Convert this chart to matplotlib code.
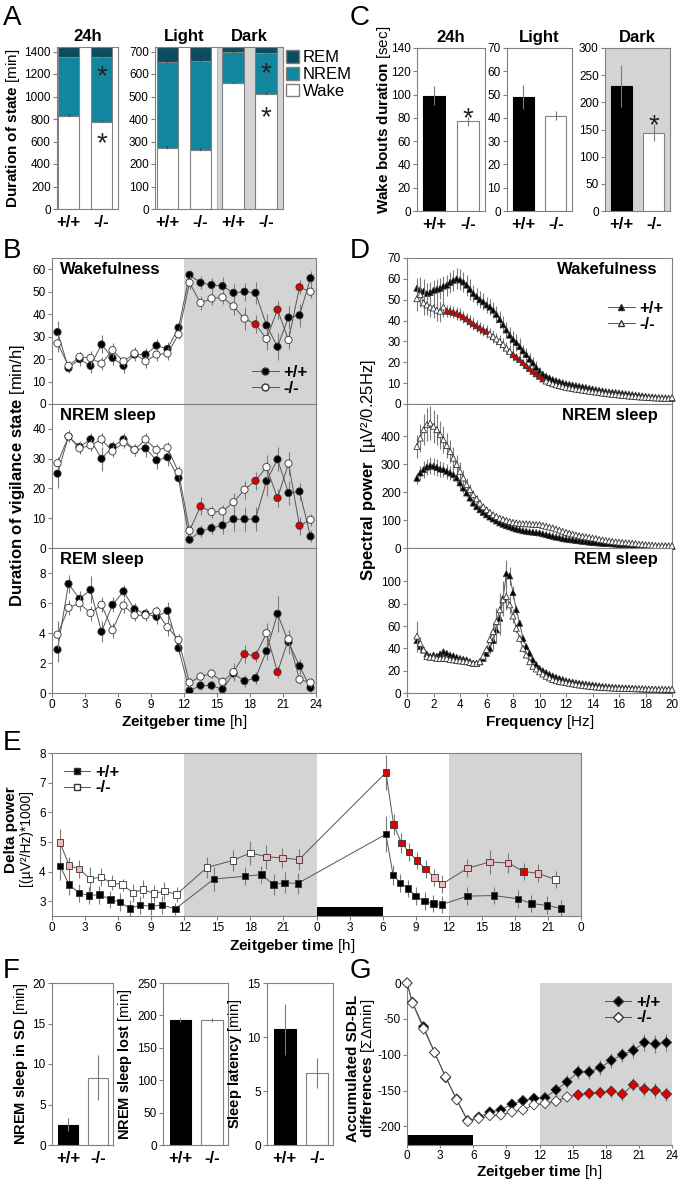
import numpy as np
import matplotlib
matplotlib.use("Agg")
import matplotlib.pyplot as plt
from matplotlib.lines import Line2D
from matplotlib.patches import Patch

plt.rcParams['font.family'] = ['Liberation Sans', 'DejaVu Sans']
plt.rcParams['mathtext.fontset'] = 'custom'
plt.rcParams['mathtext.rm'] = 'Liberation Sans'
plt.rcParams['mathtext.bf'] = 'Liberation Sans:bold'
plt.rcParams['mathtext.it'] = 'Liberation Sans:italic'
plt.rcParams['axes.unicode_minus'] = False

# ---------------- data ----------------
geno = ['+/+', '-/-']

# A: duration of state [min]
a24_wake = [830, 770]
a24_nrem = [525, 585]
a24_rem = [85, 85]
ld_groups = ['Light +/+', 'Light -/-', 'Dark +/+', 'Dark -/-']
ald_wake = [272, 262, 558, 510]
ald_nrem = [383, 398, 142, 183]
ald_rem = [65, 60, 20, 27]

# C: wake bout duration [sec]
c24 = [99, 77]
c24_sem = [8, 4]
clight = [49, 41]
clight_sem = [5, 2]
cdark = [230, 144]
cdark_sem = [38, 16]

# B: hourly time course [min/h]
zt = np.arange(0.5, 24, 1.0)
b_wake_wt = [32, 16, 20, 17, 26.5, 20.5, 17, 22, 22, 26, 24.5, 34,
             57.5, 54, 53, 52.5, 49.5, 50, 49.5, 35, 25.5, 38.5, 39.5, 56]
b_wake_ko = [27, 17, 21, 20.5, 18, 24, 19, 22.5, 19, 22, 22.5, 31,
             54, 45, 47, 47.5, 43.5, 38, 35.5, 29, 42, 28.5, 52, 50]
b_wake_wt_sem = [5, 2, 3, 3, 4, 3, 3, 3, 3, 3, 3, 3, 2, 3, 3, 4, 4, 4, 5, 5, 6, 5, 5, 3]
b_wake_ko_sem = [4, 2, 2, 3, 3, 3, 2, 3, 3, 3, 3, 2, 3, 3, 3, 3, 4, 5, 4, 5, 4, 4, 3, 3]
b_wake_sig = [18, 20, 22]

b_nrem_wt = [25, 37.5, 34, 36.5, 30, 34, 36.5, 33, 33.5, 29.5, 30.5, 23.5,
             2.8, 5.6, 6.7, 7.6, 9.7, 9.7, 9.7, 22.5, 29.8, 18.5, 19, 3.9]
b_nrem_ko = [28.5, 37.5, 33.5, 34.5, 36.5, 32.5, 35.5, 33, 36.5, 33, 33.7, 25.5,
             5.8, 14, 12.1, 12.3, 15.4, 19.6, 22.6, 27.2, 16.8, 28.4, 7.5, 9.5]
b_nrem_wt_sem = [5, 2, 2, 2, 4, 2, 2, 2, 3, 3, 3, 2, 1, 2, 2, 3, 4, 4, 4, 5, 4, 4, 3, 2]
b_nrem_ko_sem = [2, 2, 2, 2, 2, 2, 2, 2, 2, 2, 2, 2, 2, 3, 2, 2, 3, 3, 3, 4, 3, 4, 3, 2]
b_nrem_sig = [13, 18, 20, 22]

b_rem_wt = [2.9, 7.3, 6.3, 6.9, 4.1, 5.9, 6.8, 5.6, 5.3, 5.1, 5.5, 3.0,
            0.15, 0.5, 0.5, 0.25, 1.3, 0.8, 1.0, 2.8, 5.3, 3.4, 1.8, 0.35]
b_rem_ko = [3.9, 5.7, 6.0, 5.35, 5.9, 4.2, 5.85, 5.2, 5.2, 5.45, 4.4, 3.55,
            0.7, 1.1, 1.3, 0.75, 1.4, 2.6, 2.5, 4.0, 1.4, 3.6, 0.9, 0.7]
b_rem_wt_sem = [0.8, 0.6, 0.5, 0.9, 0.7, 0.5, 0.4, 0.4, 0.4, 0.5, 0.6, 0.4,
                0.2, 0.3, 0.3, 0.3, 0.4, 0.4, 0.4, 0.6, 1.2, 0.8, 0.5, 0.3]
b_rem_ko_sem = [0.9, 0.5, 0.5, 0.5, 0.5, 0.5, 0.5, 0.4, 0.4, 0.4, 0.6, 0.4,
                0.3, 0.3, 0.3, 0.3, 0.6, 0.6, 0.4, 0.7, 0.4, 0.6, 0.3, 0.3]
b_rem_sig = [17, 18, 20]

# D: EEG spectra, 0.25 Hz bins from 0.75 to 20 Hz
freq = np.arange(0.75, 20.001, 0.25)
d_wake_wt = [55.5,
             54.8, 54.0, 53.0, 53.5,
             54.5, 55.0, 55.5, 56.5,
             57.0, 58.3, 59.3, 60.0,
             59.5, 58.5, 57.0, 55.0,
             53.0, 51.5, 50.0, 49.0,
             47.5, 46.5, 45.0, 43.0,
             40.5, 38.0, 35.5, 33.0,
             31.0, 29.5, 27.5, 25.5,
             23.7, 21.5, 19.7, 17.5,
             15.7, 14.3, 13.3, 12.5,
             11.7, 11.2, 10.7, 10.2,
             9.7, 9.4, 9.1, 8.8,
             8.5, 8.2, 7.9, 7.5,
             7.2, 6.9, 6.6, 6.3,
             6.0, 5.8, 5.6, 5.5,
             5.3, 5.1, 4.9, 4.7,
             4.5, 4.3, 4.1, 3.9,
             3.7, 3.5, 3.4, 3.2,
             3.1, 3.0, 2.9, 2.8,
             2.7]
d_wake_ko = [50.5,
             52.5, 48.5, 47.5, 46.5,
             46.0, 45.0, 44.5, 46.5,
             44.5, 44.5, 44.0, 43.5,
             42.8, 41.8, 40.8, 39.6,
             38.5, 37.5, 36.5, 35.5,
             34.8, 33.5, 32.4, 31.2,
             30.0, 28.5, 26.8, 25.2,
             23.7, 22.5, 21.3, 19.8,
             18.4, 17.0, 15.7, 14.5,
             13.3, 12.0, 11.0, 10.3,
             9.7, 9.2, 8.8, 8.4,
             8.0, 7.7, 7.4, 7.1,
             6.9, 6.6, 6.4, 6.1,
             5.9, 5.7, 5.5, 5.2,
             5.0, 4.8, 4.6, 4.5,
             4.3, 4.1, 4.0, 3.8,
             3.7, 3.6, 3.4, 3.3,
             3.2, 3.1, 3.0, 2.9,
             2.8, 2.8, 2.7, 2.7,
             3.0]
d_wake_sig = [(3.0, 6.0), (8.0, 10.25)]
d_wake_wt_sem = [5,
                 6, 6, 5, 5,
                 5, 5, 5, 5,
                 5, 5, 5, 5,
                 5, 5, 5, 5,
                 4, 4, 4, 4,
                 4, 4, 4, 4,
                 4, 4, 4, 4,
                 4, 4, 4, 3,
                 3, 3, 3, 3,
                 2]
d_wake_ko_sem = [6,
                 6, 6, 5, 5,
                 5, 5, 5, 5,
                 3, 3, 3, 3,
                 3, 3, 3, 3,
                 3, 3, 3, 3,
                 3, 3, 3, 3,
                 3, 3, 3, 3,
                 3, 2, 2, 2,
                 2, 2, 2, 2,
                 2]

d_nrem_wt = [250,
             269, 281, 290, 295,
             293, 289, 283, 281,
             275, 269, 263, 251,
             233, 215, 197, 179,
             161, 148, 137, 128,
             119, 111, 104, 97,
             90, 85, 80, 76,
             72, 68, 65, 62,
             60, 58, 57, 55,
             54, 51, 48, 45,
             42, 39, 37, 34,
             32, 30, 29, 27,
             26, 24, 23, 21,
             20, 19, 18, 17,
             17, 16, 15, 14,
             13, 12, 12, 11,
             10, 9, 9, 8,
             7, 7, 7, 6,
             6, 6, 6, 5,
             5]
d_nrem_ko = [364,
             394, 424, 442, 448,
             436, 424, 406, 388,
             367, 346, 322, 299,
             275, 251, 227, 209,
             191, 176, 161, 148,
             137, 128, 119, 113,
             107, 103, 99, 95,
             92, 90, 88, 87,
             87, 86, 85, 84,
             84, 81, 78, 75,
             72, 68, 64, 60,
             56, 53, 50, 47,
             44, 42, 40, 38,
             36, 34, 31, 29,
             27, 25, 24, 22,
             21, 20, 19, 18,
             17, 16, 14, 13,
             12, 11, 10, 9,
             8, 8, 8, 8,
             8]
d_nrem_wt_sem = [20,
                 25, 30, 30, 30,
                 30, 30, 28, 28,
                 26, 25, 24, 22,
                 20, 18, 16, 14,
                 12, 10, 9, 8,
                 7, 6, 6]
d_nrem_ko_sem = [40,
                 50, 55, 60, 60,
                 60, 55, 50, 48,
                 45, 42, 40, 36,
                 32, 28, 24, 20,
                 16, 14, 12, 10,
                 9, 8, 7]

d_rem_wt = [47,
            41.6, 38.6, 35.0, 33.0,
            34.0, 33.0, 35.0, 37.0,
            35.6, 34.0, 33.3, 32.0,
            31.0, 30.3, 29.7, 28.2,
            26.7, 26.5, 28.0, 31.0,
            35.6, 40.0, 47.0, 56.6,
            67.0, 85.0, 107.0, 105.0,
            90.0, 74.6, 62.6, 49.0,
            41.6, 35.6, 29.7, 25.5,
            22.0, 20.0, 18.3, 16.7,
            15.3, 14.1, 13.0, 12.0,
            11.0, 10.4, 9.8, 9.2,
            8.7, 8.3, 7.9, 7.5,
            7.2, 6.8, 6.4, 6.0,
            5.7, 5.5, 5.2, 5.0,
            4.8, 4.6, 4.5, 4.3,
            4.2, 4.0, 3.9, 3.7,
            3.6, 3.4, 3.3, 3.1,
            3.0, 2.9, 2.8, 2.8,
            2.7]
d_rem_ko = [51,
            44.6, 38.6, 32.7, 32.0,
            32.0, 31.0, 31.0, 31.0,
            31.0, 30.0, 29.7, 29.0,
            28.8, 28.4, 28.0, 27.3,
            26.7, 26.7, 28.0, 33.0,
            39.0, 48.0, 55.0, 64.0,
            74.6, 83.6, 86.6, 79.0,
            69.0, 58.0, 49.0, 40.0,
            34.0, 28.0, 24.0, 21.5,
            19.0, 17.0, 15.0, 13.5,
            12.0, 11.0, 10.3, 9.8,
            9.3, 8.7, 8.2, 7.7,
            7.2, 6.8, 6.4, 6.0,
            5.7, 5.4, 5.1, 4.9,
            4.8, 4.6, 4.5, 4.3,
            4.2, 4.1, 4.0, 4.0,
            3.9, 3.8, 3.7, 3.7,
            3.6, 3.5, 3.4, 3.4,
            3.3, 3.3, 3.3, 3.3,
            3.3]
d_rem_wt_sem = [8,
                4, 3, 2, 2,
                2, 2, 2, 2,
                2, 2, 2, 2,
                2, 2, 2, 2,
                2, 2, 2, 2,
                3, 5, 8, 12,
                15, 15, 12, 8,
                6, 4, 3, 3,
                2, 2, 2, 2,
                2]
d_rem_ko_sem = [14,
                6, 3, 2, 2,
                2, 2, 2, 2,
                2, 2, 2, 2,
                2, 2, 2, 2,
                2, 2, 2, 2,
                3, 5, 8, 12,
                15, 15, 12, 8,
                6, 4, 3, 3,
                2, 2, 2, 2,
                2]

# E: delta power, baseline day (0-24) and recovery after SD (24-48)
e_wt_t = [0.75, 1.55, 2.45, 3.35, 4.3, 5.3, 6.15, 7.1, 8.0, 9.0, 10.0, 11.2,
          14.7, 17.5, 19.0, 20.1, 21.1, 22.3,
          30.3, 30.95, 31.6, 32.3, 33.0, 33.8, 34.6, 35.4,
          37.7, 40.1, 42.3, 43.5, 44.9, 46.2]
e_wt = [4.18, 3.56, 3.28, 3.19, 3.22, 3.06, 2.97, 2.75, 2.87, 2.83, 2.87, 2.74,
        3.75, 3.84, 3.9, 3.56, 3.62, 3.6,
        5.26, 3.88, 3.62, 3.43, 3.17, 3.0, 2.92, 2.89,
        3.17, 3.19, 3.08, 2.92, 2.86, 2.75]
e_wt_sem = [0.45, 0.35, 0.3, 0.3, 0.3, 0.3, 0.3, 0.3, 0.3, 0.3, 0.3, 0.2,
            0.4, 0.3, 0.3, 0.35, 0.35, 0.35,
            0.6, 0.35, 0.3, 0.3, 0.3, 0.3, 0.3, 0.3,
            0.3, 0.3, 0.3, 0.3, 0.3, 0.3]
e_ko_t = [0.72, 1.57, 2.47, 3.44, 4.44, 5.4, 6.4, 7.36, 8.27, 9.24, 10.2, 11.3,
          14.07, 16.4, 18.0, 19.45, 20.9, 22.4,
          30.3, 31.0, 31.7, 32.4, 33.1, 33.9, 34.7, 35.4,
          37.7, 39.7, 41.4, 42.8, 44.1, 45.7]
e_ko = [4.98, 4.2, 4.09, 3.75, 3.81, 3.62, 3.56, 3.28, 3.4, 3.26, 3.34, 3.23,
        4.14, 4.37, 4.63, 4.5, 4.46, 4.4,
        7.34, 5.59, 4.96, 4.66, 4.37, 4.09, 3.8, 3.58,
        4.11, 4.32, 4.29, 4.0, 3.94, 3.73]
e_ko_sem = [0.45, 0.3, 0.3, 0.4, 0.3, 0.25, 0.2, 0.3, 0.3, 0.3, 0.3, 0.25,
            0.35, 0.35, 0.4, 0.4, 0.35, 0.35,
            0.6, 0.35, 0.35, 0.3, 0.3, 0.3, 0.3, 0.3,
            0.3, 0.4, 0.35, 0.3, 0.3, 0.3]
# significance code per -/- point: r = p<0.05 vs +/+, p = trend, w = n.s.
e_ko_sig = ['p', 'p', 'p', 'w', 'w', 'w', 'w', 'w', 'w', 'w', 'w', 'w',
            'w', 'w', 'w', 'p', 'p', 'p',
            'r', 'r', 'r', 'r', 'r', 'r', 'p', 'p',
            'p', 'p', 'p', 'r', 'p', 'w']
sd_window = (24, 30)

# F
f_sd_nrem = [2.5, 8.3]
f_sd_nrem_sem = [0.8, 2.8]
f_lost = [193, 193]
f_lost_sem = [3, 3]
f_latency = [10.7, 6.7]
f_latency_sem = [2.4, 1.4]

# G: accumulated SD-BL differences
g_t = [0, 0.5, 1.5, 2.5, 3.5, 4.5, 5.5, 6.5, 7.5, 8.5, 9.5, 10.5, 11.5,
       12.5, 13.5, 14.5, 15.5, 16.5, 17.5, 18.5, 19.5, 20.5, 21.5, 22.5, 23.5]
g_wt = [0, -27, -61, -97, -132, -162, -192, -187, -180, -177, -169, -164, -161,
        -160, -149, -138, -124, -124, -118, -108, -100, -94, -83, -85, -83]
g_ko = [0, -28, -64, -97, -131, -163, -193, -189, -185, -184, -180, -177, -170,
        -168, -165, -159, -156, -154, -153, -151, -155, -142, -148, -150, -155]
g_wt_sem = [0, 3, 4, 4, 5, 6, 6, 5, 5, 5, 6, 6, 6, 6, 8, 9, 10, 10, 10, 10, 10, 10, 12, 12, 12]
g_ko_sem = [0, 3, 4, 4, 5, 6, 6, 5, 5, 5, 5, 5, 6, 6, 6, 6, 7, 8, 8, 8, 9, 9, 10, 10, 10]
g_sig = list(range(16, 25))

# ---------------- style ----------------
NREM_C = '#13869f'
REM_C = '#0c4c5e'
SHADE = '#d4d4d4'
EDGE = '#808080'
ERR = '#7a7a7a'
LINE = '#555555'
MEDGE = '#333333'
RED = '#e00000'
PINK = '#f5b7b7'

W, H = 680, 1181
fig = plt.figure(figsize=(W / 100, H / 100), dpi=100)


def px_axes(l, t, r, b):
    return fig.add_axes([l / W, 1 - b / H, (r - l) / W, (b - t) / H])


def ftext(x, y, s, **kw):
    fig.text(x / W, 1 - y / H, s, **kw)


def mixed(bold, regular):
    return r'$\mathbf{' + bold.replace(' ', r'\ ') + '}$ ' + regular


def style(ax):
    for s in ax.spines.values():
        s.set_color(EDGE)
        s.set_linewidth(0.8)
    ax.tick_params(direction='out', length=3, width=0.8, color=EDGE,
                   labelsize=8.5, pad=1.5)


def geno_ticks(ax, n=2):
    ax.set_xticks(range(n))
    ax.set_xticklabels(geno * (n // 2), fontsize=12, fontweight='bold')
    ax.tick_params(axis='x', length=0, pad=4)


def star(ax, x, y, size=20):
    ax.annotate('*', (x, y), xytext=(0, -0.58 * size), textcoords='offset points',
                ha='center', va='baseline', fontsize=size, color='#222222',
                annotation_clip=False)


def series(ax, x, y, sem, faces, marker, ms, z=3, clip=True):
    x = np.asarray(x, float)
    y = np.asarray(y, float)
    n = len(sem)
    ax.errorbar(x[:n], y[:n], yerr=sem, fmt='none', ecolor=ERR,
                elinewidth=0.8, capsize=0, zorder=z)
    ax.plot(x, y, color=LINE, lw=0.7, zorder=z + 0.1)
    ax.scatter(x, y, s=ms ** 2, c=faces, marker=marker, edgecolors=MEDGE,
               linewidths=0.6, zorder=z + 0.2, clip_on=clip)


def faces_from_idx(n, sig, base='white'):
    f = [base] * n
    for i in sig:
        f[i] = RED
    return f


# ---------------- A ----------------
axA = px_axes(57, 47, 118, 209)
xa = np.arange(2)
bot2 = np.add(a24_wake, a24_nrem)
axA.bar(xa, a24_wake, 0.64, color='white', edgecolor=EDGE, lw=0.8)
axA.bar(xa, a24_nrem, 0.64, bottom=a24_wake, color=NREM_C, edgecolor=EDGE, lw=0.8)
axA.bar(xa, a24_rem, 0.64, bottom=bot2, color=REM_C, edgecolor=EDGE, lw=0.8)
axA.errorbar(xa, a24_wake, yerr=[[0, 0], [12, 12]], fmt='none', ecolor='#333', elinewidth=0.8)
axA.errorbar(xa, bot2, yerr=[[0, 0], [12, 12]], fmt='none', ecolor='#333', elinewidth=0.8)
axA.set_xlim(-0.35, 1.5)
axA.set_ylim(0, 1440)
axA.set_yticks(range(0, 1401, 200))
style(axA)
geno_ticks(axA)
axA.set_title('24h', fontsize=12, fontweight='bold', pad=4)
star(axA, 1, 1250)
star(axA, 1, 655)

axL = px_axes(155, 47, 283, 209)
xl = np.arange(4)
botl = np.add(ald_wake, ald_nrem)
axL.axvspan(1.5, 3.52, color=SHADE, zorder=0, lw=0)
axL.axvline(1.5, color='#b8b8b8', lw=0.8, zorder=0.5)
axL.bar(xl, ald_wake, 0.65, color='white', edgecolor=EDGE, lw=0.8)
axL.bar(xl, ald_nrem, 0.65, bottom=ald_wake, color=NREM_C, edgecolor=EDGE, lw=0.8)
axL.bar(xl, ald_rem, 0.65, bottom=botl, color=REM_C, edgecolor=EDGE, lw=0.8)
axL.errorbar(xl, ald_wake, yerr=[[0] * 4, [8] * 4], fmt='none', ecolor='#333', elinewidth=0.8)
axL.errorbar(xl, botl, yerr=[[0] * 4, [6] * 4], fmt='none', ecolor='#333', elinewidth=0.8)
axL.set_xlim(-0.38, 3.52)
axL.set_ylim(0, 720)
axL.set_yticks(range(0, 701, 100))
style(axL)
geno_ticks(axL, 4)
for xc, lab in [(0.5, 'Light'), (2.5, 'Dark')]:
    axL.text(xc, 1.02, lab, transform=axL.get_xaxis_transform(), ha='center',
             va='bottom', fontsize=12, fontweight='bold')
star(axL, 3, 640)
star(axL, 3, 445)

ftext(13, 128, mixed('Duration of state', '[min]'), rotation=90, ha='center',
      va='center', fontsize=11)
fig.legend([Patch(facecolor=REM_C, edgecolor=EDGE), Patch(facecolor=NREM_C, edgecolor=EDGE),
            Patch(facecolor='white', edgecolor=EDGE)], ['REM', 'NREM', 'Wake'],
           loc='upper left', bbox_to_anchor=(286 / W, 1 - 50 / H), frameon=False,
           fontsize=12, handlelength=0.8, handleheight=0.8, handletextpad=0.2,
           labelspacing=0.1, borderpad=0, borderaxespad=0)

# ---------------- C ----------------
c_specs = [((417, 485), c24, c24_sem, 140, 20, '24h', False, 87),
           ((507, 572), clight, clight_sem, 70, 10, 'Light', False, None),
           ((605, 670), cdark, cdark_sem, 300, 50, 'Dark', True, 173)]
for (l, r), vals, sems, ymax, step, title, dark, st in c_specs:
    ax = px_axes(l, 48, r, 211)
    if dark:
        ax.set_facecolor(SHADE)
    ax.bar([0, 1], vals, 0.66, color=['black', 'white'], edgecolor=['black', EDGE], lw=0.8)
    ax.errorbar([0, 1], vals, yerr=sems, fmt='none', ecolor=ERR, elinewidth=0.8)
    ax.set_xlim(-0.5, 1.5)
    ax.set_ylim(0, ymax)
    ax.set_yticks(range(0, ymax + 1, step))
    style(ax)
    geno_ticks(ax)
    ax.set_title(title, fontsize=12, fontweight='bold', pad=4)
    if st is not None:
        star(ax, 1, st)
ftext(384, 120, mixed('Wake bouts duration', '[sec]'), rotation=90, ha='center',
      va='center', fontsize=11)

# ---------------- B ----------------
rows = [(258, 404), (404, 548), (548, 693)]
b_specs = [(b_wake_wt, b_wake_wt_sem, b_wake_ko, b_wake_ko_sem, b_wake_sig, 65, 10, 60, 'Wakefulness'),
           (b_nrem_wt, b_nrem_wt_sem, b_nrem_ko, b_nrem_ko_sem, b_nrem_sig, 48.4, 10, 40, 'NREM sleep'),
           (b_rem_wt, b_rem_wt_sem, b_rem_ko, b_rem_ko_sem, b_rem_sig, 9.7, 2, 8, 'REM sleep')]
for i, ((t, b), (wt, wts, ko, kos, sig, ymax, step, ytop, name)) in enumerate(zip(rows, b_specs)):
    ax = px_axes(52, t, 316, b)
    ax.axvspan(12, 24, color=SHADE, zorder=0, lw=0)
    series(ax, zt, wt, wts, ['black'] * 24, 'o', 5.2, z=3)
    series(ax, zt, ko, kos, faces_from_idx(24, sig), 'o', 5.2, z=4)
    ax.set_xlim(0, 24)
    ax.set_ylim(0, ymax)
    ax.set_yticks(np.arange(0, ytop + 0.1, step))
    style(ax)
    ax.text(0.03, 0.97, name, transform=ax.transAxes, ha='left', va='top',
            fontsize=12, fontweight='bold')
    if i < 2:
        ax.set_xticks([])
    else:
        ax.set_xticks(range(0, 25, 3))
        ax.set_xlabel(mixed('Zeitgeber time', '[h]'), fontsize=11, labelpad=1)
    if i == 0:
        h = [Line2D([], [], color=LINE, lw=0.7, marker='o', mfc='black', mec=MEDGE, ms=5),
             Line2D([], [], color=LINE, lw=0.7, marker='o', mfc='white', mec=MEDGE, ms=5)]
        ax.legend(h, geno, loc='lower right', frameon=False, handlelength=1.6,
                  handletextpad=0.3, labelspacing=0.05, borderaxespad=0.1,
                  prop={'size': 12, 'weight': 'bold'})
ftext(18, 475, mixed('Duration of vigilance state', '[min/h]'), rotation=90,
      ha='center', va='center', fontsize=12)

# ---------------- D ----------------
wake_faces = [RED if any(lo <= f <= hi for lo, hi in d_wake_sig) else 'white' for f in freq]
d_specs = [(d_wake_wt, d_wake_wt_sem, d_wake_ko, d_wake_ko_sem, wake_faces, 70, 10, 0, 70, 'Wakefulness'),
           (d_nrem_wt, d_nrem_wt_sem, d_nrem_ko, d_nrem_ko_sem, ['white'] * len(freq), 516, 100, 0, 400, 'NREM sleep'),
           (d_rem_wt, d_rem_wt_sem, d_rem_ko, d_rem_ko_sem, ['white'] * len(freq), 130, 20, 0, 100, 'REM sleep')]
for i, ((t, b), (wt, wts, ko, kos, kof, ymax, step, y0, ytop, name)) in enumerate(zip(rows, d_specs)):
    ax = px_axes(407, t, 672, b)
    series(ax, freq, wt, wts, ['black'] * len(freq), '^', 4.3, z=3, clip=False)
    series(ax, freq, ko, kos, kof, '^', 4.3, z=4, clip=False)
    ax.set_xlim(0, 20)
    ax.set_ylim(0, ymax)
    ax.set_yticks(np.arange(y0, ytop + 0.1, step))
    style(ax)
    ax.text(0.945, 0.97, name, transform=ax.transAxes, ha='right', va='top',
            fontsize=12, fontweight='bold')
    if i < 2:
        ax.set_xticks([])
    else:
        ax.set_xticks(range(0, 21, 2))
        ax.set_xlabel(mixed('Frequency', '[Hz]'), fontsize=11, labelpad=1)
    if i == 0:
        h = [Line2D([], [], color=LINE, lw=0.7, marker='^', mfc='black', mec=MEDGE, ms=5),
             Line2D([], [], color=LINE, lw=0.7, marker='^', mfc='white', mec=MEDGE, ms=5)]
        ax.legend(h, geno, loc='center right', bbox_to_anchor=(1.0, 0.6), frameon=False,
                  handlelength=1.6, handletextpad=0.3, labelspacing=0.05,
                  borderaxespad=0.1, prop={'size': 12, 'weight': 'bold'})
ftext(368, 470, mixed('Spectral power', ' [µV²/0.25Hz]'), rotation=90,
      ha='center', va='center', fontsize=12)

# ---------------- E ----------------
axE = px_axes(52, 753, 581, 916)
axE.axvspan(12, 24, color=SHADE, zorder=0, lw=0)
axE.axvspan(36, 48, color=SHADE, zorder=0, lw=0)
axE.axvspan(sd_window[0], sd_window[1], ymin=0, ymax=0.055, color='black', zorder=1, lw=0)
code_c = {'r': RED, 'p': PINK, 'w': 'white'}
series(axE, e_wt_t, e_wt, e_wt_sem, ['black'] * len(e_wt), 's', 4.6, z=3)
series(axE, e_ko_t, e_ko, e_ko_sem, [code_c[c] for c in e_ko_sig], 's', 4.6, z=4)
axE.set_xlim(0, 48)
axE.set_ylim(2.5, 8)
axE.set_xticks(range(0, 49, 3))
axE.set_xticklabels([str(v % 24) for v in range(0, 49, 3)])
axE.set_yticks(range(3, 9))
style(axE)
axE.tick_params(axis='x', pad=1)
h = [Line2D([], [], color=LINE, lw=0.7, marker='s', mfc='black', mec=MEDGE, ms=5),
     Line2D([], [], color=LINE, lw=0.7, marker='s', mfc='white', mec=MEDGE, ms=5)]
axE.legend(h, geno, loc='upper left', frameon=False, handlelength=1.6,
           handletextpad=0.3, labelspacing=0.05, borderaxespad=0.3,
           prop={'size': 12, 'weight': 'bold'})
ftext(11, 830, 'Delta power', rotation=90, ha='center', va='center',
      fontsize=11, fontweight='bold')
ftext(26, 838, '[(µV²/Hz)*1000]', rotation=90, ha='center', va='center', fontsize=10)
ftext(292, 946, mixed('Zeitgeber time', '[h]'), ha='center', va='center', fontsize=11)

# ---------------- F ----------------
f_specs = [((52, 113), f_sd_nrem, f_sd_nrem_sem, 20, 5, 21, 'NREM sleep in SD'),
           ((163, 228), f_lost, f_lost_sem, 250, 50, 125, 'NREM sleep lost'),
           ((267, 333), f_latency, f_latency_sem, 15, 5, 235, 'Sleep latency')]
for (l, r), vals, sems, ymax, step, lx, lab in f_specs:
    ax = px_axes(l, 983, r, 1145)
    ax.bar([0, 1], vals, 0.68, color=['black', 'white'], edgecolor=['black', EDGE], lw=0.8)
    ax.errorbar([0, 1], vals, yerr=sems, fmt='none', ecolor=ERR, elinewidth=0.8)
    ax.set_xlim(-0.55, 1.5)
    ax.set_ylim(0, ymax)
    ax.set_yticks(range(0, ymax + 1, step))
    style(ax)
    geno_ticks(ax)
    ftext(lx, 1064, mixed(lab, '[min]'), rotation=90, ha='center', va='center', fontsize=10.5)

# ---------------- G ----------------
axG = px_axes(407, 983, 672, 1145)
axG.axvspan(12, 24, color=SHADE, zorder=0, lw=0)
axG.axvspan(0, 6, ymin=0, ymax=0.06, color='black', zorder=1, lw=0)
series(axG, g_t, g_wt, g_wt_sem, ['black'] * len(g_t), 'D', 5.2, z=3, clip=False)
series(axG, g_t, g_ko, g_ko_sem, faces_from_idx(len(g_t), g_sig), 'D', 5.2, z=4, clip=False)
axG.set_xlim(0, 24)
axG.set_ylim(-226, 0)
axG.set_xticks(range(0, 25, 3))
axG.set_yticks(range(-200, 1, 50))
style(axG)
axG.tick_params(axis='x', length=2.5, pad=1)
axG.spines['top'].set_visible(False)
axG.spines['right'].set_visible(False)
ftext(539, 1172, mixed('Zeitgeber time', '[h]'), ha='center', va='center', fontsize=11)
h = [Line2D([], [], color=LINE, lw=0.7, marker='D', mfc='black', mec=MEDGE, ms=5.5),
     Line2D([], [], color=LINE, lw=0.7, marker='D', mfc='white', mec=MEDGE, ms=5.5)]
axG.legend(h, geno, loc='upper right', frameon=False, handlelength=1.6,
           handletextpad=0.3, labelspacing=0.05, borderaxespad=0.3,
           prop={'size': 12, 'weight': 'bold'})
ftext(353, 1068, 'Accumulated SD-BL', rotation=90, ha='center', va='center',
      fontsize=11, fontweight='bold')
ftext(368, 1068, mixed('differences', '[ΣΔmin]'), rotation=90, ha='center',
      va='center', fontsize=11)

# ---------------- panel letters ----------------
for x, y, s in [(3, 25, 'A'), (350, 25, 'C'), (3, 258, 'B'), (350, 258, 'D'),
                (3, 750, 'E'), (3, 978, 'F'), (350, 978, 'G')]:
    ftext(x, y, s, fontsize=20, va='baseline')

fig.savefig('out.png', dpi=100)
